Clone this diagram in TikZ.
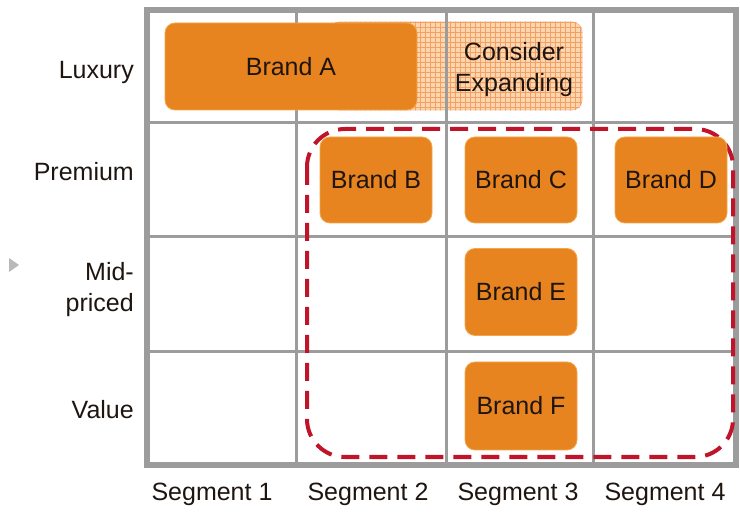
\documentclass[tikz,border=0pt]{standalone}
\usepackage{fontspec}
\setmainfont{Liberation Sans}
\begin{document}
\definecolor{gridgray}{HTML}{9C9C9C}
\definecolor{brandorange}{HTML}{E8841F}
\definecolor{brandedge}{HTML}{F2A64A}
\definecolor{paleorange}{HTML}{FDD6AE}
\definecolor{hatchorange}{HTML}{F2A066}
\definecolor{focusred}{HTML}{C0142A}
\definecolor{inktext}{HTML}{1E1510}
\begin{tikzpicture}[x=1pt,y=-1pt,
  every node/.style={font=\fontsize{25}{31}\selectfont, text=inktext, inner sep=0pt},
  brandbox/.style={fill=brandorange, draw=brandedge, line width=0.8pt, rounded corners=10pt,
    minimum width=112pt, minimum height=86pt, align=center},
  rowlabel/.style={anchor=east, align=right},
  collabel/.style={anchor=center},
  gridline/.style={draw=gridgray, line width=3pt},
  gridframe/.style={draw=gridgray, line width=6.5pt},
  hatchline/.style={draw=hatchorange, line width=0.6pt},
  focusline/.style={draw=focusred, line width=4pt, dash pattern=on 18pt off 10pt, rounded corners=38pt}]

\useasboundingbox (0,0) rectangle (740,513);

% hatched "consider expanding" area
\node[draw=hatchorange!70, fill=paleorange, rounded corners=10pt, line width=0.8pt,
      minimum width=252pt, minimum height=88pt] (expand) at (456,66) {};
\begin{scope}
  \clip[rounded corners=10pt] (expand.south west) rectangle (expand.north east);
  \foreach \hx in {330,335,...,585} \draw[hatchline] (\hx,20) -- (\hx,112);
  \foreach \hy in {22,27,...,112} \draw[hatchline] (328,\hy) -- (586,\hy);
\end{scope}

% matrix grid
\coordinate (tl) at (147,10);
\coordinate (br) at (736,465);
\draw[gridline] (296,10) -- (296,465);
\draw[gridline] (446,10) -- (446,465);
\draw[gridline] (593,10) -- (593,465);
\draw[gridline] (147,123) -- (736,123);
\draw[gridline] (147,237) -- (736,237);
\draw[gridline] (147,352) -- (736,352);
\draw[gridframe] (tl) rectangle (br);

\node (expandtext) at (514,70) [align=center] {Consider\\Expanding};

% current portfolio focus
\coordinate (focusnw) at (307,129);
\coordinate (focusse) at (733,457);
\draw[focusline] (focusnw) rectangle (focusse);

% brands
\node[brandbox, minimum width=252pt, minimum height=87pt] (brandA) at (291,66.5) {Brand A};
\node[brandbox] (brandB) at (376,180) {Brand B};
\node[brandbox] (brandC) at (521,180) {Brand C};
\node[brandbox] (brandD) at (671,180) {Brand D};
\node[brandbox, minimum height=87pt] (brandE) at (521,292) {Brand E};
\node[brandbox, minimum height=88pt] (brandF) at (521,406) {Brand F};

% axis labels
\node[rowlabel] (luxury) at (134,72) {Luxury};
\node[rowlabel] (premium) at (134,172) {Premium};
\node[rowlabel] (mid) at (134,290) {Mid-\\priced};
\node[rowlabel] (value) at (134,410) {Value};

\node[collabel] (seg1) at (212,494) {Segment 1};
\node[collabel] (seg2) at (368,494) {Segment 2};
\node[collabel] (seg3) at (518,494) {Segment 3};
\node[collabel] (seg4) at (665,494) {Segment 4};

% small marker at the left edge
\fill[gray!55] (9,258) -- (19,265) -- (9,272) -- cycle;
\end{tikzpicture}
\end{document}
